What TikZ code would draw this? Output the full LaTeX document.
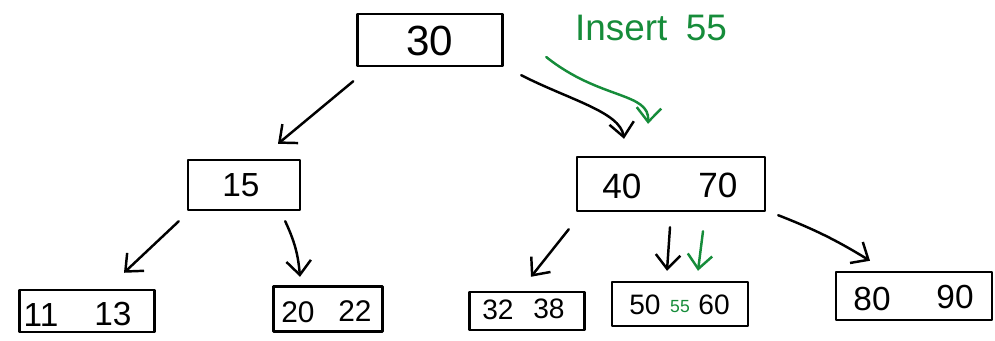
\documentclass[tikz,border=0pt]{standalone}
\usepackage{fontspec}
\setmainfont{Liberation Sans}
\usetikzlibrary{arrows.meta}
\definecolor{inkgreen}{RGB}{22,140,58}
\begin{document}
\begin{tikzpicture}[x=0.02cm,y=-0.02cm,
  ink/.style={line width=1.4pt,line cap=round,line join=round},
  keybox/.style={ink,draw,rectangle,inner sep=0pt},
  arr/.style={ink,-{Straight Barb[length=8pt,width=14pt,line width=1.4pt]}},
  garr/.style={arr,draw=inkgreen},
  key/.style={inner sep=0pt},
  fs/.style={font=\fontsize{#1}{#1}\selectfont}]
\useasboundingbox (0,0) rectangle (995,341);

% boxes of the tree
\node[keybox,minimum width=2.9cm,minimum height=1.04cm] (root) at (430,40) {};
\node[keybox,minimum width=2.24cm,minimum height=1.0cm] (n15) at (244,185) {};
\node[keybox,minimum width=3.76cm,minimum height=1.08cm] (n4070) at (671,184) {};
\node[keybox,minimum width=2.7cm,minimum height=0.84cm] (l1) at (87,311) {};
\node[keybox,minimum width=2.18cm,minimum height=0.9cm] (l2) at (328,309) {};
\node[keybox,minimum width=2.3cm,minimum height=0.76cm] (l3) at (527,311) {};
\node[keybox,minimum width=2.72cm,minimum height=0.88cm] (l4) at (680,304) {};
\node[keybox,minimum width=3.12cm,minimum height=0.96cm] (l5) at (914,296) {};

% keys
\node[key,fs=24] (k30) at (430,41) {30};
\node[key,fs=19] (k15) at (241,185) {15};
\node[key,fs=20] (k40) at (622,186) {40};
\node[key,fs=20] (k70) at (718,185) {70};
\node[key,fs=19] (k11) at (41,315) {11};
\node[key,fs=19] (k13) at (113,314) {13};
\node[key,fs=17] (k20) at (298,312) {20};
\node[key,fs=17] (k22) at (355,311) {22};
\node[key,fs=16] (k32) at (498,310) {32};
\node[key,fs=16] (k38) at (549,309) {38};
\node[key,fs=16] (k50) at (645,305) {50};
\node[key,fs=10,text=inkgreen] (k55) at (680,307) {55};
\node[key,fs=16] (k60) at (714,305) {60};
\node[key,fs=19] (k80) at (872,299) {80};
\node[key,fs=19] (k90) at (955,297) {90};

% insertion note
\node[key,fs=21,text=inkgreen] (ins) at (651,28) {Insert\hspace{0.5em}55};

% child pointers
\draw[arr] ([shift={(-3,14)}]root.south west) -- ([shift={(34,-15)}]n15.north);
\draw[arr] ([shift={(17.5,8)}]root.south east) .. controls (570,100) and (620,112) .. ([shift={(-47,-17)}]n4070.north);
\draw[arr] ([shift={(-8,10)}]n15.south west) -- ([shift={(37,-16)}]l1.north);
\draw[arr] ([shift={(-16,10)}]n15.south east) to[bend left=10] ([shift={(-28,-8.5)}]l2.north);
\draw[arr] ([shift={(-7,17)}]n4070.south west) -- ([shift={(4,-14)}]l3.north);
\draw[arr] ([shift={(-1,15)}]n4070.south) -- ([shift={(-13,-10)}]l4.north);
\draw[arr] ([shift={(12,3)}]n4070.south east) to[bend left=5] ([shift={(-44,-10)}]l5.north);

% search path for 55
\draw[garr] ([shift={(42.5,17)}]root.east) .. controls (600,100) and (650,92) .. ([shift={(-23,-32)}]n4070.north);
\draw[garr] ([shift={(32,19)}]n4070.south) -- ([shift={(18,-10)}]l4.north);
\end{tikzpicture}
\end{document}
